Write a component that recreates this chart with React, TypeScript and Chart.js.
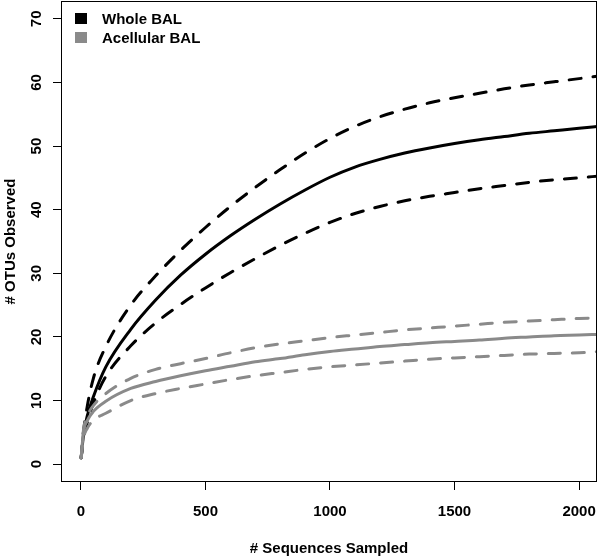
import React, { useEffect, useRef } from "react";
import { Chart, registerables } from "chart.js";

Chart.register(...registerables);

const sampled = [1, 10, 25, 50, 100, 200, 300, 400, 500, 600, 700, 800, 900, 1000, 1100, 1200, 1300, 1400, 1500, 1600, 1700, 1800, 1900, 2000, 2080];

const wholeMean = [1, 4.5, 7.5, 10.6, 15.3, 21.2, 25.8, 29.7, 33, 35.9, 38.5, 40.9, 43.1, 45.1, 46.7, 47.9, 48.9, 49.7, 50.4, 51, 51.5, 52, 52.4, 52.8, 53.1];
const wholeUpper = [1, 5, 9, 13.5, 18.5, 25, 29.6, 33.6, 37.2, 40.5, 43.5, 46.3, 48.9, 51.2, 53.1, 54.6, 55.8, 56.8, 57.6, 58.3, 59, 59.6, 60.1, 60.6, 61];
const wholeLower = [1, 4, 6.5, 9.6, 13.8, 18.6, 22.2, 25.1, 27.7, 30.1, 32.3, 34.4, 36.3, 38, 39.4, 40.5, 41.4, 42.1, 42.7, 43.3, 43.8, 44.3, 44.7, 45.0, 45.3];

const acellMean = [1, 5, 6.8, 8.3, 9.9, 11.9, 13, 13.9, 14.7, 15.4, 16.1, 16.6, 17.2, 17.7, 18.1, 18.5, 18.8, 19.1, 19.3, 19.5, 19.8, 20, 20.2, 20.3, 20.4];
const acellUpper = [1, 5.3, 7.5, 9.2, 11.1, 13.5, 14.9, 15.8, 16.6, 17.5, 18.3, 18.9, 19.4, 19.9, 20.3, 20.7, 21.1, 21.4, 21.7, 22, 22.3, 22.5, 22.7, 22.9, 23];
const acellLower = [1, 4, 5.6, 6.9, 8, 10, 11.1, 11.9, 12.6, 13.3, 13.9, 14.4, 14.9, 15.3, 15.6, 15.9, 16.2, 16.5, 16.7, 16.9, 17.1, 17.3, 17.4, 17.5, 17.7];

const xTicks = [0, 500, 1000, 1500, 2000];
const yTicks = [0, 10, 20, 30, 40, 50, 60, 70];
const legendLabels = ["Whole BAL", "Acellular BAL"];
const xTitle = "# Sequences Sampled";
const yTitle = "# OTUs Observed";

const BLACK = "#000000";
const GRAY = "#8a8a8a";
const FONT = "bold 15px 'Liberation Sans', Arial, Helvetica, sans-serif";

function toPoints(ys: number[]) {
  return sampled.map((x, i) => ({ x, y: ys[i] }));
}

function ds(label: string, ys: number[], color: string, dashed: boolean) {
  return {
    label,
    data: toPoints(ys),
    borderColor: color,
    backgroundColor: color,
    borderWidth: 3,
    borderDash: dashed ? [12, 12] : [],
    borderCapStyle: "round" as const,
    borderJoinStyle: "round" as const,
    pointRadius: 0,
    cubicInterpolationMode: "monotone" as const,
    fill: false,
  };
}

const decorPlugin = {
  id: "decor",
  afterDraw(chart: any) {
    const ctx = chart.ctx;
    const a = chart.chartArea;
    const xs = chart.scales.x;
    const ys = chart.scales.y;
    ctx.save();
    ctx.strokeStyle = BLACK;
    ctx.lineWidth = 1;
    ctx.strokeRect(Math.round(a.left) + 0.5, Math.round(a.top) + 0.5, Math.round(a.right - a.left) - 1, Math.round(a.bottom - a.top) - 1);

    ctx.fillStyle = BLACK;
    ctx.font = FONT;
    ctx.textAlign = "center";
    ctx.textBaseline = "alphabetic";
    xTicks.forEach((v) => {
      ctx.fillText(String(v), xs.getPixelForValue(v), 516);
    });
    yTicks.forEach((v) => {
      ctx.save();
      ctx.translate(41, ys.getPixelForValue(v));
      ctx.rotate(-Math.PI / 2);
      ctx.textAlign = "center";
      ctx.fillText(String(v), 0, 0);
      ctx.restore();
    });
    ctx.textAlign = "center";
    ctx.fillText(xTitle, (a.left + a.right) / 2, 553);
    ctx.save();
    ctx.translate(15, (a.top + a.bottom) / 2);
    ctx.rotate(-Math.PI / 2);
    ctx.fillText(yTitle, 0, 0);
    ctx.restore();

    const colors = [BLACK, GRAY];
    const baselines = [24, 43];
    legendLabels.forEach((lab, i) => {
      ctx.fillStyle = colors[i];
      ctx.fillRect(75, baselines[i] - 11, 12, 11);
      ctx.fillStyle = BLACK;
      ctx.textAlign = "left";
      ctx.fillText(lab, 102, baselines[i]);
    });
    ctx.restore();
  },
};

export default function App() {
  const ref = useRef<HTMLCanvasElement | null>(null);
  useEffect(() => {
    if (!ref.current) return;
    const chart = new Chart(ref.current, {
      type: "line",
      data: {
        datasets: [
          ds("Acellular BAL lower", acellLower, GRAY, true),
          ds("Acellular BAL upper", acellUpper, GRAY, true),
          ds("Acellular BAL", acellMean, GRAY, false),
          ds("Whole BAL lower", wholeLower, BLACK, true),
          ds("Whole BAL upper", wholeUpper, BLACK, true),
          ds("Whole BAL", wholeMean, BLACK, false),
        ],
      },
      options: {
        animation: false,
        responsive: false,
        devicePixelRatio: 1,
        layout: { padding: { top: 1, right: 3, left: 0, bottom: 0 } },
        plugins: { legend: { display: false }, tooltip: { enabled: false } },
        scales: {
          x: {
            type: "linear",
            min: -80,
            max: 2072,
            afterBuildTicks: (s: any) => {
              s.ticks = xTicks.map((v) => ({ value: v }));
            },
            afterFit: (s: any) => {
              s.height = 75;
            },
            ticks: { display: false },
            grid: { display: true, drawOnChartArea: false, drawTicks: true, tickLength: 8, color: BLACK, lineWidth: 1 },
            border: { display: false },
          },
          y: {
            type: "linear",
            min: -2.8,
            max: 72.8,
            afterBuildTicks: (s: any) => {
              s.ticks = yTicks.map((v) => ({ value: v }));
            },
            afterFit: (s: any) => {
              s.width = 61;
            },
            ticks: { display: false },
            grid: { display: true, drawOnChartArea: false, drawTicks: true, tickLength: 8, color: BLACK, lineWidth: 1 },
            border: { display: false },
          },
        },
      },
      plugins: [decorPlugin],
    });
    return () => chart.destroy();
  }, []);
  return (
    <div style={{ position: "absolute", left: 0, top: 0, width: 600, height: 557, background: "#fff" }}>
      <canvas ref={ref} width={600} height={557} style={{ width: 600, height: 557 }} />
    </div>
  );
}
